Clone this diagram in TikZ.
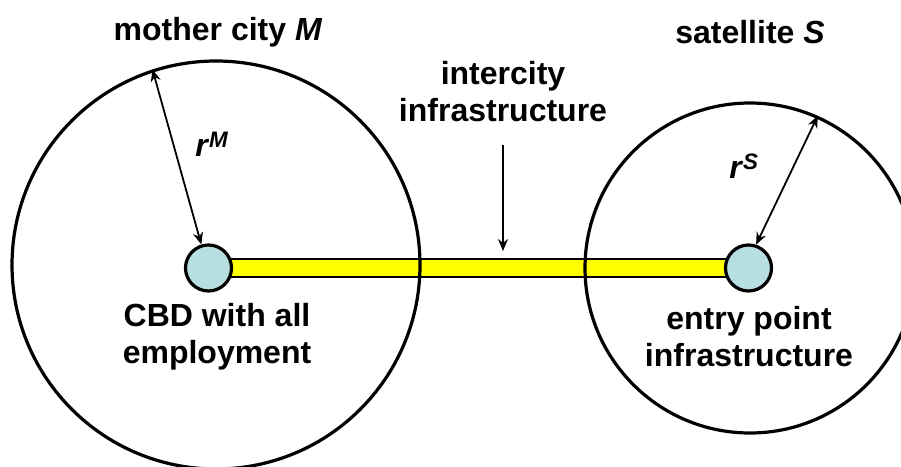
\documentclass[tikz,border=0pt]{standalone}
\usepackage{fontspec}
\setmainfont{Liberation Sans}
\usetikzlibrary{arrows.meta,backgrounds,calc}
\definecolor{hubblue}{HTML}{B7DEE0}
\definecolor{baryellow}{HTML}{FFFF00}
\tikzset{
  city/.style={circle, draw, line width=3.2pt, inner sep=0pt},
  hub/.style={circle, draw, line width=3.2pt, fill=hubblue, inner sep=0pt, minimum size=46pt},
  lbl/.style={font=\fontsize{32}{37}\selectfont\bfseries, align=center, inner sep=0pt},
  radarrow/.style={line width=1.8pt, {Stealth[length=12pt,width=10pt]}-{Stealth[length=12pt,width=10pt]}},
  ptarrow/.style={line width=1.8pt, -{Stealth[length=12pt,width=10pt]}}
}
\begin{document}
\begin{tikzpicture}[x=1pt,y=-1pt]
\useasboundingbox (0,0) rectangle (901,466);
\clip (0,0) rectangle (901,466);
\node[hub] (cbd) at (208.5,268) {};
\node[hub] (entry) at (748.5,268) {};
\begin{scope}[on background layer]
\draw[line width=1.8pt, fill=baryellow] ($(cbd.center)+(0,-9)$) rectangle ($(entry.center)+(0,9)$);
\end{scope}
\node[city, minimum size=408pt] (mother) at (216,265) {};
\node[city, minimum size=330pt] (sat) at (750,268) {};
\draw[radarrow] (mother.108) -- (cbd.107);
\draw[radarrow] (sat.66) -- (entry.72);
\node[lbl] (mlabel) at (218,32) {mother city \textit{M}};
\node[lbl] (slabel) at (750,32) {satellite \textit{S}};
\node[lbl] (ilabel) at (503,92) {intercity\\infrastructure};
\node[lbl] (cbdlabel) at (217,337) {CBD with all\\employment};
\node[lbl] (entrylabel) at (749,337) {entry point\\infrastructure};
\node[lbl] (rm) at (212,144) {\textit{r}\textsuperscript{\textit{M}}};
\node[lbl] (rs) at (744,166) {\textit{r}\textsuperscript{\textit{S}}};
\coordinate (itop) at (503,145);
\coordinate (ibot) at (503,251);
\draw[ptarrow] (itop) -- (ibot);
\end{tikzpicture}
\end{document}
